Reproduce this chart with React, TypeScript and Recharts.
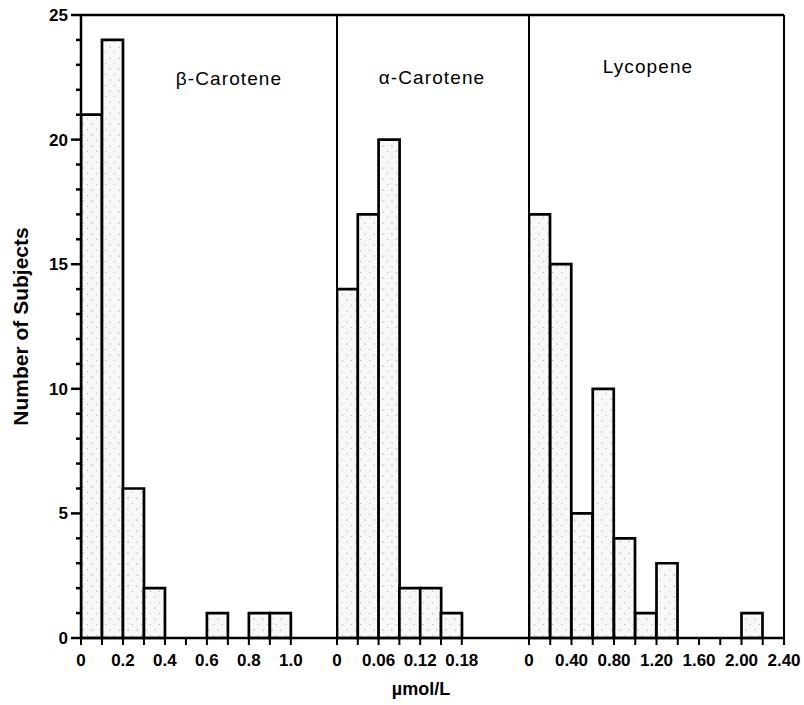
import React from 'react';
import { ComposedChart, Bar, XAxis, YAxis, ReferenceLine } from 'recharts';

// counts per bin, bins given by their midpoints (µmol/L)
const betaBins = [0.05, 0.15, 0.25, 0.35, 0.45, 0.55, 0.65, 0.75, 0.85, 0.95];
const betaCounts = [21, 24, 6, 2, 0, 0, 1, 0, 1, 1];
const betaTicks = [0, 0.1, 0.2, 0.3, 0.4, 0.5, 0.6, 0.7, 0.8, 0.9, 1.0];
const betaTickLabels = ['0', '', '0.2', '', '0.4', '', '0.6', '', '0.8', '', '1.0'];

const alphaBins = [0.015, 0.045, 0.075, 0.105, 0.135, 0.165];
const alphaCounts = [14, 17, 20, 2, 2, 1];
const alphaTicks = [0, 0.03, 0.06, 0.09, 0.12, 0.15, 0.18];
const alphaTickLabels = ['0', '', '0.06', '', '0.12', '', '0.18'];

const lycoBins = [0.1, 0.3, 0.5, 0.7, 0.9, 1.1, 1.3, 1.5, 1.7, 1.9, 2.1, 2.3];
const lycoCounts = [17, 15, 5, 10, 4, 1, 3, 0, 0, 0, 1, 0];
const lycoTicks = [0, 0.2, 0.4, 0.6, 0.8, 1.0, 1.2, 1.4, 1.6, 1.8, 2.0, 2.2, 2.4];
const lycoTickLabels = ['0', '', '0.40', '', '0.80', '', '1.20', '', '1.60', '', '2.00', '', '2.40'];

const yTicks = [0, 1, 2, 3, 4, 5, 6, 7, 8, 9, 10, 11, 12, 13, 14, 15, 16, 17, 18, 19, 20, 21, 22, 23, 24, 25];

const toRows = (bins: number[], counts: number[]) => bins.map((b, i) => ({ bin: b, count: counts[i] }));

const YTick = (props: any) => {
  const { x, y, payload } = props;
  const major = payload.value % 5 === 0;
  return (
    <g>
      <line x1={x} x2={x - (major ? 10 : 5)} y1={y} y2={y} stroke="#000" strokeWidth={2.5} />
      {major && (
        <text x={x - 13} y={y + 6} textAnchor="end" fontSize={17} fontWeight="bold" fill="#000">
          {payload.value}
        </text>
      )}
    </g>
  );
};

const Stipple = ({ id }: { id: string }) => (
  <defs>
    <pattern id={id} width={9} height={11} patternUnits="userSpaceOnUse">
      <rect width={9} height={11} fill="#f8f8f8" />
      <circle cx={2} cy={3} r={0.6} fill="#777" />
      <circle cx={6.5} cy={8.5} r={0.5} fill="#999" />
    </pattern>
  </defs>
);

interface PanelProps {
  left: number;
  width: number;
  margin: { top: number; right: number; bottom: number; left: number };
  data: { bin: number; count: number }[];
  domain: [number, number];
  ticks: number[];
  tickLabels: string[];
  title: string;
  titleX: number;
  titleY: number;
  first?: boolean;
  last?: boolean;
  unitLabel?: boolean;
  id: string;
}

const Panel: React.FC<PanelProps> = ({
  left, width, margin, data, domain, ticks, tickLabels, title, titleX, titleY, first, last, unitLabel, id,
}) => (
  <div style={{ position: 'absolute', left, top: 0 }}>
    <ComposedChart width={width} height={705} data={data} margin={margin} barCategoryGap={0} barGap={0}>
      <Stipple id={id} />
      <XAxis
        dataKey="bin"
        type="number"
        domain={domain}
        ticks={ticks}
        interval={0}
        allowDataOverflow
        tickFormatter={(_v: any, i: number) => tickLabels[i]}
        height={67}
        tickSize={7}
        tickMargin={9}
        axisLine={{ stroke: '#000', strokeWidth: 2.5 }}
        tickLine={{ stroke: '#000', strokeWidth: 2 }}
        tick={{ fontSize: 17, fontWeight: 'bold', fill: '#000' }}
        label={
          unitLabel
            ? {
                content: (p: any) => (
                  <text
                    x={p.viewBox.x + p.viewBox.width / 2 - 12}
                    y={p.viewBox.y + p.viewBox.height - 10}
                    textAnchor="middle"
                    fontSize={18}
                    fontWeight="bold"
                    fill="#000"
                  >
                    µmol/L
                  </text>
                ),
              }
            : undefined
        }
      />
      <YAxis
        domain={[0, 25]}
        ticks={yTicks}
        interval={0}
        hide={!first}
        width={81}
        tickSize={0}
        tickMargin={0}
        tickLine={false}
        tick={<YTick />}
        axisLine={{ stroke: '#000', strokeWidth: 2.5 }}
        label={{
          value: 'Number of Subjects',
          angle: -90,
          position: 'insideLeft',
          offset: 21,
          style: { textAnchor: 'middle', fontSize: 21, fontWeight: 'bold', fill: '#000' },
        }}
      />
      <Bar dataKey="count" fill={`url(#${id})`} stroke="#000" strokeWidth={2.7} isAnimationActive={false} />
      <ReferenceLine y={25} stroke="#000" strokeWidth={2.5} />
      {!first && <ReferenceLine x={domain[0]} stroke="#000" strokeWidth={2} />}
      {last && <ReferenceLine x={domain[1]} stroke="#000" strokeWidth={2} />}
      <text x={titleX} y={titleY} textAnchor="middle" fontSize={19} letterSpacing={1.1} fill="#000">
        {title}
      </text>
    </ComposedChart>
  </div>
);

const App: React.FC = () => (
  <div
    style={{
      position: 'absolute',
      left: 0,
      top: 0,
      width: 804,
      height: 705,
      background: '#fff',
      fontFamily: '"Liberation Sans", Arial, sans-serif',
    }}
  >
    <Panel
      id="stipBeta"
      left={0}
      width={347}
      margin={{ top: 15, right: 10, bottom: 0, left: 0 }}
      data={toRows(betaBins, betaCounts)}
      domain={[0, 1.22]}
      ticks={betaTicks}
      tickLabels={betaTickLabels}
      title="β-Carotene"
      titleX={229}
      titleY={85}
      first
    />
    <Panel
      id="stipAlpha"
      left={327}
      width={212}
      margin={{ top: 15, right: 10, bottom: 0, left: 10 }}
      data={toRows(alphaBins, alphaCounts)}
      domain={[0, 0.277]}
      ticks={alphaTicks}
      tickLabels={alphaTickLabels}
      title="α-Carotene"
      titleX={105}
      titleY={84}
      unitLabel
    />
    <Panel
      id="stipLyco"
      left={519}
      width={285}
      margin={{ top: 15, right: 20, bottom: 0, left: 10 }}
      data={toRows(lycoBins, lycoCounts)}
      domain={[0, 2.4]}
      ticks={lycoTicks}
      tickLabels={lycoTickLabels}
      title="Lycopene"
      titleX={129}
      titleY={73}
      last
    />
  </div>
);

export default App;
